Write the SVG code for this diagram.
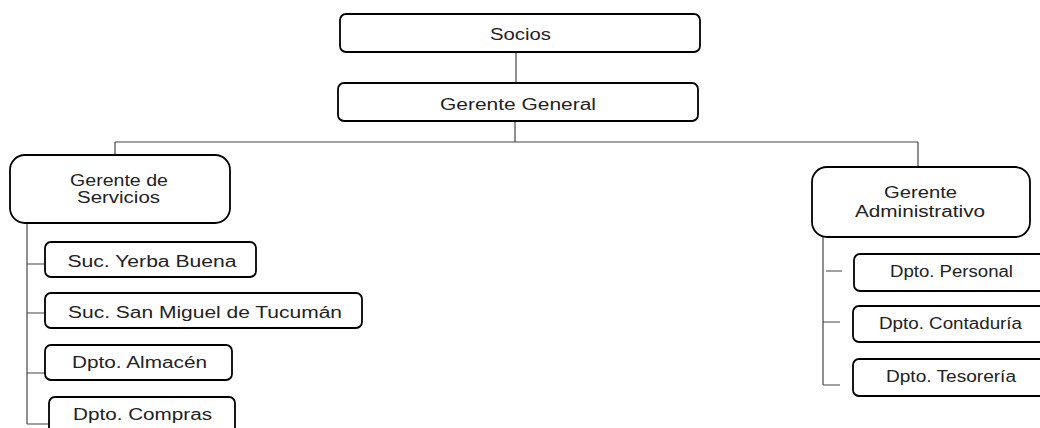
<svg xmlns="http://www.w3.org/2000/svg" width="1040" height="428" viewBox="0 0 1040 428">
<style>
.box{fill:#fff;stroke:#000;stroke-width:1.8}
.c{fill:none;stroke:#444;stroke-width:1.2}
text{font-family:"Liberation Sans",Arial,sans-serif;font-size:16px;fill:#222;text-anchor:middle}
</style>
<rect width="1040" height="428" fill="#fff"/>
<g id="connectors">
<path class="c" d="M516 52V83M515 121V142M115 142H918M115 142V155M918 142V167"/>
<path class="c" d="M27 223V424M27 264H45M27 313H45M27 373H45M27 424H49"/>
<path class="c" d="M823 237V385M826 271H842M823 322H840M823 385H840"/>
</g>
<g id="socios"><rect class="box" x="340" y="14" width="360" height="38" rx="6"/><text x="520.5" y="40" textLength="61" lengthAdjust="spacingAndGlyphs">Socios</text></g>
<g id="gerente-general"><rect class="box" x="338" y="83" width="360" height="38" rx="6"/><text x="518" y="110" textLength="156" lengthAdjust="spacingAndGlyphs">Gerente General</text></g>
<g id="gerente-servicios"><rect class="box" x="10" y="155" width="220" height="68" rx="15"/><text x="119" y="186" textLength="98" lengthAdjust="spacingAndGlyphs">Gerente de</text><text x="118.5" y="203" textLength="83" lengthAdjust="spacingAndGlyphs">Servicios</text></g>
<g id="suc-yerba-buena"><rect class="box" x="45" y="242" width="211" height="35" rx="6"/><text x="152" y="266.5" textLength="169" lengthAdjust="spacingAndGlyphs">Suc. Yerba Buena</text></g>
<g id="suc-san-miguel"><rect class="box" x="45" y="293" width="317" height="35" rx="6"/><text x="205" y="318" textLength="274" lengthAdjust="spacingAndGlyphs">Suc. San Miguel de Tucumán</text></g>
<g id="dpto-almacen"><rect class="box" x="45" y="345" width="187" height="35" rx="6"/><text x="139.5" y="368" textLength="135" lengthAdjust="spacingAndGlyphs">Dpto. Almacén</text></g>
<g id="dpto-compras"><rect class="box" x="49" y="397" width="186" height="40" rx="6"/><text x="142.5" y="420" textLength="139" lengthAdjust="spacingAndGlyphs">Dpto. Compras</text></g>
<g id="gerente-administrativo"><rect class="box" x="812" y="167" width="218" height="70" rx="15"/><text x="920.5" y="198" textLength="73" lengthAdjust="spacingAndGlyphs">Gerente</text><text x="920" y="217" textLength="130" lengthAdjust="spacingAndGlyphs">Administrativo</text></g>
<g id="dpto-personal"><rect class="box" x="854" y="254" width="200" height="37" rx="6"/><text x="951.5" y="277" textLength="123" lengthAdjust="spacingAndGlyphs">Dpto. Personal</text></g>
<g id="dpto-contaduria"><rect class="box" x="853" y="306" width="200" height="36" rx="6"/><text x="950.5" y="329" textLength="143" lengthAdjust="spacingAndGlyphs">Dpto. Contaduría</text></g>
<g id="dpto-tesoreria"><rect class="box" x="853" y="359" width="200" height="37" rx="6"/><text x="951" y="382" textLength="130" lengthAdjust="spacingAndGlyphs">Dpto. Tesorería</text></g>
</svg>
